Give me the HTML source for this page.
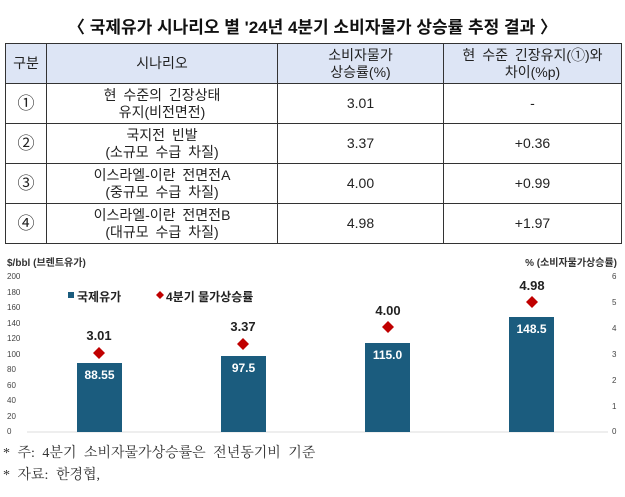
<!DOCTYPE html>
<html><head><meta charset="utf-8"><style>
body{margin:0;width:625px;height:497px;background:#fff;position:relative;overflow:hidden;font-family:"Liberation Sans","Noto Sans CJK KR",sans-serif;}
.t{position:absolute;white-space:nowrap;}
table{position:absolute;left:5px;top:43px;width:617px;border-collapse:collapse;font-size:14px;color:#222;word-spacing:3px;}
td{border:1.5px solid #333;text-align:center;line-height:17px;padding:0;}
tr.h td{background:#dde5f5;height:39px;}
tr.r td{height:39px;}
td.n{font-size:17px;}
</style></head><body>
<div class="t" style="left:0;width:625px;text-align:center;top:13px;font-size:17px;font-weight:bold;color:#111;">〈 국제유가 시나리오 별 '24년 4분기 소비자물가 상승률 추정 결과 〉</div>
<table>
<tr class="h"><td style="width:40px">구분</td><td style="width:230px">시나리오</td><td style="width:165px">소비자물가<br>상승률(%)</td><td>현 수준 긴장유지(①)와<br>차이(%p)</td></tr>
<tr class="r"><td class="n">①</td><td>현 수준의 긴장상태<br>유지(비전면전)</td><td>3.01</td><td>-</td></tr>
<tr class="r"><td class="n">②</td><td>국지전 빈발<br>(소규모 수급 차질)</td><td>3.37</td><td>+0.36</td></tr>
<tr class="r"><td class="n">③</td><td>이스라엘-이란 전면전A<br>(중규모 수급 차질)</td><td>4.00</td><td>+0.99</td></tr>
<tr class="r"><td class="n">④</td><td>이스라엘-이란 전면전B<br>(대규모 수급 차질)</td><td>4.98</td><td>+1.97</td></tr>
</table>
<svg width="625" height="497" style="position:absolute;left:0;top:0" font-family="Liberation Sans, Noto Sans CJK KR, sans-serif">
<text x="7" y="266" font-size="10" font-weight="bold" fill="#333">$/bbl (브렌트유가)</text>
<text x="617" y="266" font-size="10" font-weight="bold" fill="#333" text-anchor="end">% (소비자물가상승률)</text>
<g font-size="8" fill="#444">
<text x="7" y="279">200</text><text x="7" y="295">180</text><text x="7" y="310">160</text><text x="7" y="326">140</text><text x="7" y="341">120</text><text x="7" y="357">100</text><text x="7" y="372">80</text><text x="7" y="388">60</text><text x="7" y="403">40</text><text x="7" y="419">20</text><text x="7" y="434">0</text>
<text x="612" y="279">6</text><text x="612" y="305">5</text><text x="612" y="331">4</text><text x="612" y="357">3</text><text x="612" y="383">2</text><text x="612" y="409">1</text><text x="612" y="434">0</text>
</g>
<line x1="27" y1="432" x2="608" y2="432" stroke="#ddd"/>
<g fill="#1b5c7e">
<rect x="77" y="363" width="45" height="69"/><rect x="221" y="356" width="45" height="76"/><rect x="365" y="343" width="45" height="89"/><rect x="509" y="317" width="45" height="115"/>
<rect x="68" y="292" width="6" height="6"/>
</g>
<text x="77" y="301" font-size="12" font-weight="bold" fill="#222">국제유가</text>
<path d="M160 291 l4 4 -4 4 -4 -4z" fill="#c00000"/>
<text x="166" y="301" font-size="12" font-weight="bold" fill="#222">4분기 물가상승률</text>
<g font-size="12" font-weight="bold" fill="#fff" text-anchor="middle">
<text x="99.5" y="379">88.55</text><text x="243.5" y="372">97.5</text><text x="387.5" y="359">115.0</text><text x="531.5" y="333">148.5</text>
</g>
<g fill="#c00000">
<path d="M99 347 l6 6 -6 6 -6 -6z"/><path d="M243 338 l6 6 -6 6 -6 -6z"/><path d="M388 321 l6 6 -6 6 -6 -6z"/><path d="M532 296 l6 6 -6 6 -6 -6z"/>
</g>
<g font-size="13" font-weight="bold" fill="#222" text-anchor="middle">
<text x="99" y="340">3.01</text><text x="243" y="331">3.37</text><text x="388" y="315">4.00</text><text x="532" y="290">4.98</text>
</g>
</svg>
<div class="t" style="left:3px;top:442px;font-size:14px;word-spacing:4px;color:#333;font-family:'Liberation Serif','Noto Serif CJK SC',serif;">* 주: 4분기 소비자물가상승률은 전년동기비 기준</div>
<div class="t" style="left:3px;top:464px;font-size:14px;word-spacing:4px;color:#333;font-family:'Liberation Serif','Noto Serif CJK SC',serif;">* 자료: 한경협,</div>
</body></html>
